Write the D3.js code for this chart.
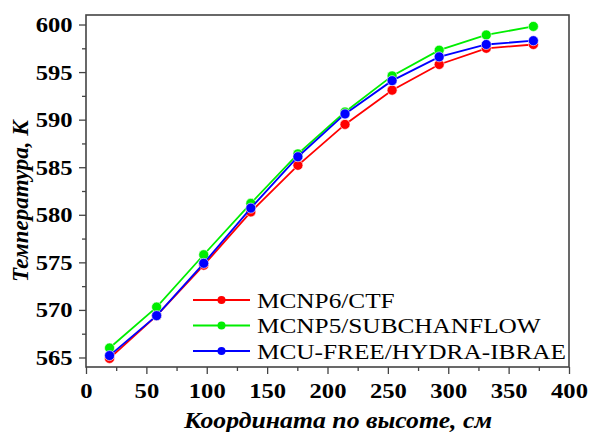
<!DOCTYPE html>
<html>
<head>
<meta charset="utf-8">
<script src="https://cdn.jsdelivr.net/npm/d3@7"></script>
<style>
  body { margin: 0; background: #fff; }
  svg { display: block; }
  svg text { font-family: "Liberation Serif", "Times New Roman", serif; fill: #000; }
  .tick text { font-weight: bold; font-size: 22px; }
</style>
</head>
<body>
<div id="chart"></div>
<script>
// Data
const heights = [19.5, 58.5, 97.5, 136.5, 175.5, 214.5, 253.5, 292.5, 331.5, 370.5];
const mcnp6Ctf = [564.9, 569.4, 574.7, 580.3, 585.2, 589.5, 593.1, 595.8, 597.5, 597.9];
const mcnp5Subchanflow = [566.0, 570.3, 575.8, 581.2, 586.4, 590.8, 594.6, 597.3, 598.9, 599.8];
const mcuFreeHydra = [565.2, 569.4, 574.9, 580.7, 586.1, 590.6, 594.1, 596.6, 597.9, 598.3];

const seriesNames = ["MCNP6/CTF", "MCNP5/SUBCHANFLOW", "MCU-FREE/HYDRA-IBRAE"];
const seriesColors = ["#ff0000", "#00ee00", "#0000ff"];
const xTicks = [0, 50, 100, 150, 200, 250, 300, 350, 400];
const yTicks = [565, 570, 575, 580, 585, 590, 595, 600];

const xTitle = "Координата по высоте, см";
const yTitle = "Температура, К";

const width = 591, height = 432;
const margin = { top: 15, right: 22, bottom: 65, left: 86 };
const plotW = width - margin.left - margin.right;
const plotH = height - margin.top - margin.bottom;

// the original picture is a bit wider than tall, so horizontal text is stretched
const stretch = 1.12;

const series = [mcnp6Ctf, mcnp5Subchanflow, mcuFreeHydra].map((vals, i) => ({
    name: seriesNames[i],
    color: seriesColors[i],
    points: vals.map((v, j) => ({ x: heights[j], y: v }))
}));

const svg = d3.select("#chart").append("svg")
    .attr("width", width)
    .attr("height", height);

const g = svg.append("g")
    .attr("transform", `translate(${margin.left},${margin.top})`);

const x = d3.scaleLinear().domain([0, 400]).range([0, plotW]);
const y = d3.scaleLinear().domain([564, 601]).range([plotH, 0]);

const axisColor = "#444";

// strip d3's default sans-serif so the css font applies
function styleAxis(a) {
    a.attr("font-family", null).attr("font-size", null);
    a.select(".domain").remove();
    a.selectAll("line").attr("stroke", axisColor).attr("stroke-width", 1.3);
    a.selectAll("text").attr("transform", `scale(${stretch},1)`);
}

// Minor ticks
g.append("g")
    .attr("transform", `translate(0,${plotH})`)
    .call(d3.axisBottom(x).tickValues(d3.range(25, 400, 50)).tickSize(4).tickFormat(""))
    .call(styleAxis);

g.append("g")
    .call(d3.axisLeft(y).tickValues(d3.range(567.5, 600, 5)).tickSize(4).tickFormat(""))
    .call(styleAxis);

// Major ticks
g.append("g")
    .attr("transform", `translate(0,${plotH})`)
    .call(d3.axisBottom(x).tickValues(xTicks).tickSize(7).tickPadding(8).tickFormat(d3.format("d")))
    .call(styleAxis);

g.append("g")
    .call(d3.axisLeft(y).tickValues(yTicks).tickSize(7).tickPadding(5).tickFormat(d3.format("d")))
    .call(styleAxis);

// Frame
g.append("rect")
    .attr("width", plotW)
    .attr("height", plotH)
    .attr("fill", "none")
    .attr("stroke", axisColor)
    .attr("stroke-width", 1.6);

const line = d3.line().x(d => x(d.x)).y(d => y(d.y));

const s = g.append("g").selectAll("g")
    .data(series)
    .enter().append("g");

s.append("path")
    .attr("d", d => line(d.points))
    .attr("fill", "none")
    .attr("stroke", d => d.color)
    .attr("stroke-width", 1.8);

s.selectAll("circle")
    .data(d => d.points.map(p => ({ ...p, color: d.color })))
    .enter().append("circle")
    .attr("cx", d => x(d.x))
    .attr("cy", d => y(d.y))
    .attr("r", 5)
    .attr("fill", d => d.color)
    .attr("stroke", "#fff")
    .attr("stroke-opacity", 0.6)
    .attr("stroke-width", 1);

// Legend
const legend = svg.append("g")
    .attr("transform", "translate(193,300)");

const rows = legend.selectAll("g")
    .data(series)
    .enter().append("g")
    .attr("transform", (d, i) => `translate(0,${i * 25.5})`);

rows.append("line")
    .attr("x1", 0).attr("x2", 57)
    .attr("stroke", d => d.color)
    .attr("stroke-width", 1.8);

rows.append("circle")
    .attr("cx", 28.5)
    .attr("r", 4)
    .attr("fill", d => d.color);

rows.append("text")
    .attr("transform", `translate(64,7.5) scale(1.15,1)`)
    .style("font-size", "22px")
    .text(d => d.name);

// Axis titles
svg.append("text")
    .attr("transform", `translate(338,428) scale(${stretch},1)`)
    .attr("text-anchor", "middle")
    .style("font-weight", "bold")
    .style("font-style", "italic")
    .style("font-size", "23px")
    .text(xTitle);

svg.append("text")
    .attr("transform", "translate(28,201) rotate(-90)")
    .attr("text-anchor", "middle")
    .style("font-weight", "bold")
    .style("font-style", "italic")
    .style("font-size", "23px")
    .text(yTitle);
</script>
</body>
</html>
